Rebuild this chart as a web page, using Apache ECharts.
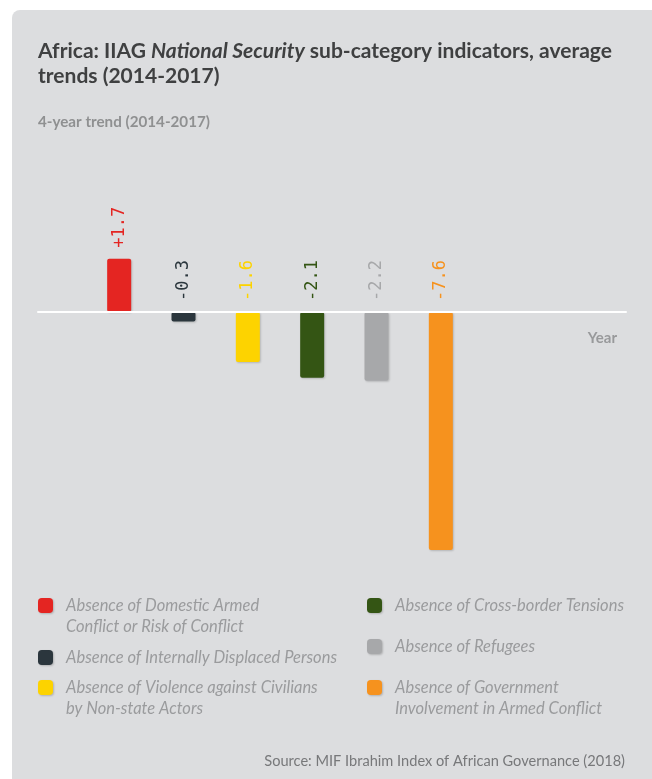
<!DOCTYPE html>
<html>
<head>
<meta charset="utf-8">
<script src="https://cdn.jsdelivr.net/npm/echarts@6/dist/echarts.min.js"></script>
<style>
  html, body { margin: 0; padding: 0; background: #ffffff; }
  #bg { position: absolute; left: 12px; top: 10px; width: 660px; height: 800px; background: #dcdddf; border-radius: 8px; }
  #chart { position: absolute; left: 0; top: 0; width: 652px; height: 779px; }
</style>
</head>
<body>
<div id="bg"></div>
<div id="chart"></div>
<script>
// ---- data ----
const categories = [
  'Absence of Domestic Armed\nConflict or Risk of Conflict',
  'Absence of Internally Displaced Persons',
  'Absence of Violence against Civilians\nby Non-state Actors',
  'Absence of Cross-border Tensions',
  'Absence of Refugees',
  'Absence of Government\nInvolvement in Armed Conflict'
];
const values = [1.7, -0.3, -1.6, -2.1, -2.2, -7.6];
const colors = ['#e42522', '#2b363d', '#fdd300', '#345514', '#a7a8aa', '#f6921e'];
const titleLine1 = ['Africa: IIAG ', 'National Security', ' sub-category indicators, average'];
const titleLine2 = 'trends (2014-2017)';
const subtitle = '4-year trend (2014-2017)';
const axisName = 'Year';
const source = 'Source: MIF Ibrahim Index of African Governance (2018)';

// ---- layout ----
const legendLayout = [
  { left: 38, iconTop: 598 },
  { left: 38, iconTop: 650 },
  { left: 38, iconTop: 680 },
  { left: 367, iconTop: 598 },
  { left: 367, iconTop: 639 },
  { left: 367, iconTop: 680 }
];
const LH = 21;
const ICON = 15;
const FONT = 'Lato, "Open Sans", sans-serif';

const chart = echarts.init(document.getElementById('chart'), null, { renderer: 'canvas' });

const series = categories.map((name, i) => ({
  name: name,
  type: 'bar',
  xAxisIndex: 0,
  yAxisIndex: 0,
  barWidth: 24,
  barGap: '-100%',
  itemStyle: {
    color: colors[i],
    borderRadius: 2,
    shadowBlur: 2,
    shadowColor: 'rgba(0,0,0,0.18)',
    shadowOffsetX: 1,
    shadowOffsetY: 1
  },
  label: {
    show: true,
    position: 'top',
    rotate: 90,
    align: 'left',
    verticalAlign: 'middle',
    distance: 11,
    color: colors[i],
    fontFamily: '"DejaVu Sans Mono", monospace',
    fontSize: 17,
    formatter: p => (p.value > 0 ? '+' : '') + Number(p.value).toFixed(1)
  },
  data: values.map((v, j) => (j === i ? v : null))
}));

const legends = categories.map((name, i) => {
  const lines = name.split('\n').length;
  const L = legendLayout[i];
  // two-line names get a blank leading line so the first line sits level with the icon
  const blockLines = lines > 1 ? 2 * lines - 1 : 1;
  const blockTop = ICON / 2 - (blockLines * LH) / 2;
  return {
    data: [name],
    left: L.left,
    top: L.iconTop + blockTop,
    padding: 0,
    itemWidth: ICON,
    itemHeight: ICON,
    icon: 'roundRect',
    selectedMode: false,
    formatter: n => (lines > 1 ? ' \n' : '') + n,
    itemStyle: { shadowBlur: 2, shadowColor: 'rgba(0,0,0,0.2)', shadowOffsetX: 1, shadowOffsetY: 1 },
    textStyle: {
      fontFamily: FONT,
      fontStyle: 'italic',
      fontWeight: 'normal',
      fontSize: 16.5,
      lineHeight: LH,
      color: '#9a9b9d',
      padding: [0, 0, 0, 8]
    }
  };
});

const option = {
  animation: false,
  backgroundColor: 'transparent',
  title: [
    {
      left: 38, top: 39, padding: 0,
      text: '{a|' + titleLine1[0] + '}{b|' + titleLine1[1] + '}{a|' + titleLine1[2] + '}\n{a|' + titleLine2 + '}',
      textStyle: {
        rich: {
          a: { fontFamily: FONT, fontSize: 21, fontWeight: 'bold', color: '#3f4041', lineHeight: 25 },
          b: { fontFamily: FONT, fontSize: 21, fontWeight: 'bold', fontStyle: 'italic', color: '#3f4041', lineHeight: 25 }
        }
      }
    },
    {
      left: 38, top: 115, padding: 0,
      text: subtitle,
      textStyle: { fontFamily: FONT, fontSize: 15.2, fontWeight: 'bold', color: '#8f9091' }
    },
    {
      right: 27, top: 754, padding: 0,
      text: source,
      textStyle: { fontFamily: FONT, fontSize: 14.6, fontWeight: 'normal', color: '#77787a' }
    }
  ],
  legend: legends,
  grid: [
    { left: 87, width: 386, top: 249.4, height: 313, containLabel: false },
    { left: 38, right: 26, top: 249.4, height: 313, containLabel: false }
  ],
  xAxis: [
    { gridIndex: 0, type: 'category', data: categories, show: false },
    {
      gridIndex: 1, type: 'category', data: [''], z: 5,
      axisLine: { show: true, onZero: true, lineStyle: { color: '#ffffff', width: 2 } },
      axisTick: { show: false }, axisLabel: { show: false },
      name: axisName, nameLocation: 'end', nameGap: -9,
      nameTextStyle: { align: 'right', verticalAlign: 'top', padding: [19, 0, 0, 0], fontFamily: FONT, fontWeight: 'bold', fontSize: 15, color: '#98999b' }
    }
  ],
  yAxis: [
    { gridIndex: 0, type: 'value', min: -8, max: 2, show: false },
    { gridIndex: 1, type: 'value', min: -8, max: 2, show: false }
  ],
  series: series
};
chart.setOption(option);
</script>
</body>
</html>
